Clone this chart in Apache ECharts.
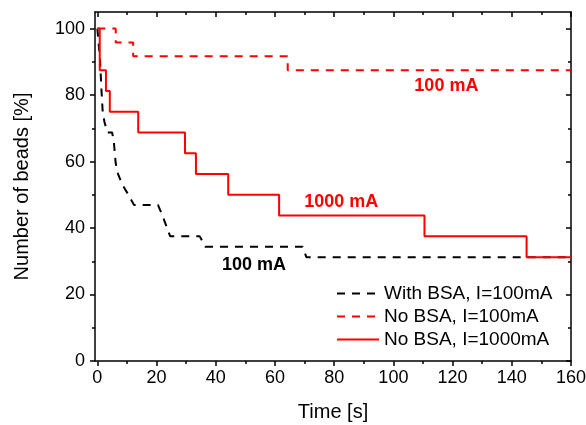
<!DOCTYPE html>
<html>
<head>
<meta charset="utf-8">
<script src="https://cdn.jsdelivr.net/npm/echarts@6/dist/echarts.min.js"></script>
<style>
  html, body { margin: 0; padding: 0; background: #fff; }
  #chart { width: 586px; height: 425px; }
</style>
</head>
<body>
<div id="chart"></div>
<script>
// Bead counts over time, as a percentage of the starting number of beads.
const withBsa100 = [
  [0, 100], [0.9, 90.6], [1.4, 81.25], [1.8, 75], [2.4, 71.9], [3.4, 68.75],
  [5.0, 68.75], [5.6, 65.6], [6.2, 59.4], [7.0, 56.25], [8.4, 53.1], [10.5, 50],
  [12.4, 46.9], [20.5, 46.9], [22.0, 43.75], [23.3, 40.6], [24.6, 37.5],
  [34.6, 37.5], [36.4, 34.4], [69.3, 34.4], [70.6, 31.25], [160, 31.25]
];
// Step series: each point is the time at which the level changes.
const noBsa100 = [
  [0, 100], [6.2, 95.83], [12.1, 91.67], [64.3, 87.5], [160, 87.5]
];
const noBsa1000 = [
  [0, 100], [0.8, 87.5], [2.9, 81.25], [4.2, 75], [13.8, 68.75], [29.6, 62.5],
  [33.3, 56.25], [44.2, 50], [61.4, 43.75], [110.5, 37.5], [145, 31.25], [160, 31.25]
];

const seriesNames = ['With BSA, I=100mA', 'No BSA, I=100mA', 'No BSA, I=1000mA'];

const timeMajor = [0, 20, 40, 60, 80, 100, 120, 140, 160];
const timeMinor = [10, 30, 50, 70, 90, 110, 130, 150];
const pctMajor = [0, 20, 40, 60, 80, 100];
const pctMinor = [10, 30, 50, 70, 90];

const FONT = 'Liberation Sans, Arial, Helvetica, sans-serif';
const AXIS_LINE = { show: true, onZero: false, lineStyle: { color: '#000', width: 1.5 } };
const X_RANGE = { min: -0.8, max: 160 };
const Y_RANGE = { min: 0, max: 105 };

function tickAxis(base, values, len, inside, withLine) {
  return Object.assign({
    type: 'value',
    axisLine: withLine ? AXIS_LINE : { show: false, onZero: false },
    axisTick: { show: true, inside: inside, length: len, customValues: values,
                lineStyle: { color: '#000', width: 1.5 } },
    axisLabel: { show: false },
    splitLine: { show: false },
    minorTick: { show: false }
  }, base);
}

const xBottom = tickAxis(Object.assign({ position: 'bottom' }, X_RANGE), timeMajor, 5, false, true);
xBottom.axisLabel = { show: true, customValues: timeMajor, margin: 8,
                      fontSize: 18, color: '#000', fontFamily: FONT };
xBottom.name = 'Time [s]';
xBottom.nameLocation = 'middle';
xBottom.nameGap = 41;
xBottom.nameTextStyle = { fontSize: 20, color: '#000', fontFamily: FONT };

const yLeft = tickAxis(Object.assign({ position: 'left' }, Y_RANGE), pctMajor, 5, false, true);
yLeft.axisLabel = { show: true, customValues: pctMajor, margin: 10,
                    fontSize: 18, color: '#000', fontFamily: FONT };
yLeft.name = 'Number of beads [%]';
yLeft.nameLocation = 'middle';
yLeft.nameGap = 63;
yLeft.nameTextStyle = { fontSize: 20, color: '#000', fontFamily: FONT };

const markLabel = (t, v, text, color) => ({
  symbol: 'circle', symbolSize: 0, silent: true,
  label: { show: true, position: 'inside', formatter: text, color: color,
           fontSize: 18, fontWeight: 'bold', fontFamily: FONT },
  data: [{ coord: [t, v] }]
});

const chart = echarts.init(document.getElementById('chart'), null, { renderer: 'canvas' });
chart.setOption({
  animation: false,
  backgroundColor: '#fff',
  grid: { left: 95, right: 15, top: 12, bottom: 64, containLabel: false, outerBoundsMode: 'none' },
  xAxis: [
    xBottom,
    tickAxis(Object.assign({ position: 'bottom' }, X_RANGE), timeMinor, 3, false, false),
    tickAxis(Object.assign({ position: 'top' }, X_RANGE), timeMajor, 5, true, true),
    tickAxis(Object.assign({ position: 'top' }, X_RANGE), timeMinor, 3, true, false)
  ],
  yAxis: [
    yLeft,
    tickAxis(Object.assign({ position: 'left' }, Y_RANGE), pctMinor, 3, false, false),
    tickAxis(Object.assign({ position: 'right' }, Y_RANGE), pctMajor, 5, true, true),
    tickAxis(Object.assign({ position: 'right' }, Y_RANGE), pctMinor, 3, true, false)
  ],
  legend: {
    orient: 'vertical',
    left: 336, top: 284, padding: 0,
    itemWidth: 42, itemHeight: 14, itemGap: 4,
    itemStyle: { opacity: 0 },
    textStyle: { fontSize: 19, color: '#000', fontFamily: FONT },
    data: seriesNames
  },
  series: [
    {
      name: seriesNames[0], type: 'line', data: withBsa100,
      symbol: 'none', color: '#000',
      lineStyle: { color: '#000', width: 2, type: [8, 7] },
      markPoint: markLabel(52.9, 28.9, '100 mA', '#000')
    },
    {
      name: seriesNames[1], type: 'line', data: noBsa100, step: 'end',
      symbol: 'none', color: '#ff0000',
      lineStyle: { color: '#ff0000', width: 2, type: [8, 7] },
      markPoint: markLabel(117.9, 82.8, '100 mA', '#ff0000')
    },
    {
      name: seriesNames[2], type: 'line', data: noBsa1000, step: 'end',
      symbol: 'none', color: '#ff0000',
      lineStyle: { color: '#ff0000', width: 2, type: 'solid' },
      markPoint: markLabel(82.4, 47.9, '1000 mA', '#ff0000')
    }
  ]
});
</script>
</body>
</html>
